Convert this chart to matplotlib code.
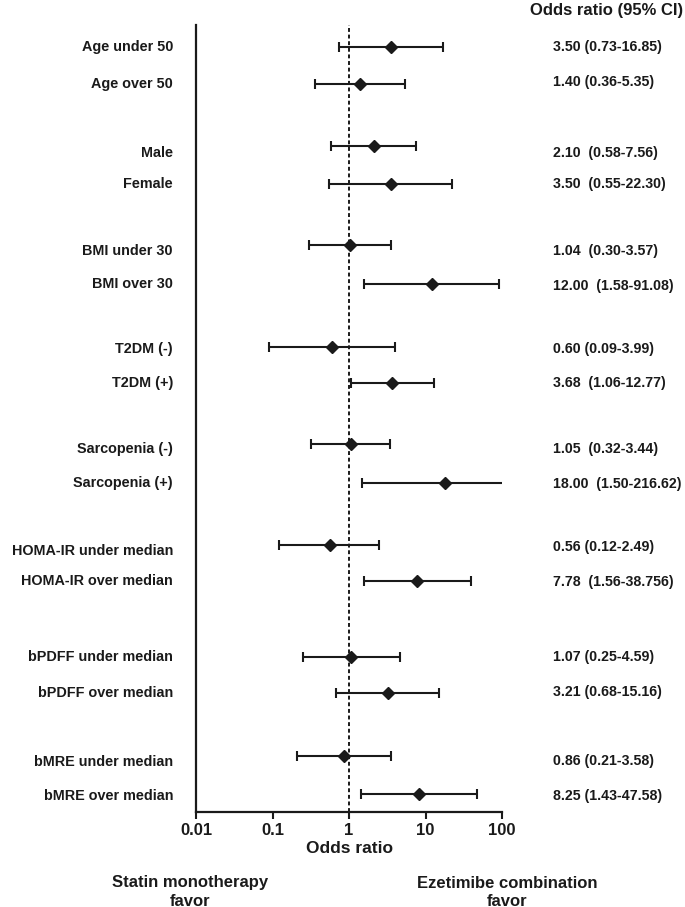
import matplotlib
matplotlib.use('Agg')
import matplotlib.pyplot as plt
import matplotlib.transforms as mtransforms
import numpy as np

plt.rcParams['font.family'] = ['Liberation Sans', 'DejaVu Sans']
plt.rcParams['font.weight'] = 'bold'

# subgroups, odds ratios and 95% CI
labels = ['Age under 50', 'Age over 50', 'Male', 'Female',
          'BMI under 30', 'BMI over 30', 'T2DM (-)', 'T2DM (+)',
          'Sarcopenia (-)', 'Sarcopenia (+)',
          'HOMA-IR under median', 'HOMA-IR over median',
          'bPDFF under median', 'bPDFF over median',
          'bMRE under median', 'bMRE over median']
odds = [3.50, 1.40, 2.10, 3.50, 1.04, 12.00, 0.60, 3.68,
        1.05, 18.00, 0.56, 7.78, 1.07, 3.21, 0.86, 8.25]
ci_low = [0.73, 0.36, 0.58, 0.55, 0.30, 1.58, 0.09, 1.06,
          0.32, 1.50, 0.12, 1.56, 0.25, 0.68, 0.21, 1.43]
ci_high = [16.85, 5.35, 7.56, 22.30, 3.57, 91.08, 3.99, 12.77,
           3.44, 216.62, 2.49, 38.756, 4.59, 15.16, 3.58, 47.58]
ci_text = ['3.50 (0.73-16.85)', '1.40 (0.36-5.35)', '2.10  (0.58-7.56)',
           '3.50  (0.55-22.30)', '1.04  (0.30-3.57)', '12.00  (1.58-91.08)',
           '0.60 (0.09-3.99)', '3.68  (1.06-12.77)', '1.05  (0.32-3.44)',
           '18.00  (1.50-216.62)', '0.56 (0.12-2.49)', '7.78  (1.56-38.756)',
           '1.07 (0.25-4.59)', '3.21 (0.68-15.16)', '0.86 (0.21-3.58)',
           '8.25 (1.43-47.58)']
xticks = [0.01, 0.1, 1, 10, 100]
xtick_labels = ['0.01', '0.1', '1', '10', '100']

# row layout (pixel rows from top of figure)
row_y = [47, 84, 146, 184, 245, 284, 347, 383,
         444, 483, 545, 581, 657, 693, 756, 794]
label_y = [47, 84, 153, 184, 251, 284, 349, 383,
           449, 483, 551, 581, 657, 693, 762, 796]
ci_y = [47, 82, 153, 184, 251, 286, 349, 383,
        449, 484, 547, 582, 657, 692, 761, 796]

W, H = 685, 907
fig = plt.figure(figsize=(W / 100, H / 100), dpi=100)
ax = fig.add_axes([196 / W, (H - 812) / H, 306 / W, (812 - 25) / H])

odds = np.array(odds)
err = [odds - np.array(ci_low), np.array(ci_high) - odds]
col = '#1a1a1a'
ax.errorbar(odds, row_y, xerr=err, fmt='D', color=col, ms=6.5,
            elinewidth=1.5, capsize=3.5, capthick=1.5)
ax.axvline(1, color=col, lw=1.4, ls=(0, (2, 1.4)))

ax.set_xscale('log')
ax.set_xlim(0.01, 100)
ax.set_ylim(812, 25)
ax.set_xticks(xticks)
ax.set_xticklabels(xtick_labels, fontsize=12, fontweight='bold', color=col)
ax.minorticks_off()
ax.tick_params(axis='x', direction='out', length=5, width=1.5, pad=3, colors=col)
ax.set_yticks([])
for s in ['top', 'right']:
    ax.spines[s].set_visible(False)
for s in ['left', 'bottom']:
    ax.spines[s].set_linewidth(1.6)
    ax.spines[s].set_color(col)
ax.set_xlabel('Odds ratio', fontsize=12.5, fontweight='bold', color=col, labelpad=2)

trans = mtransforms.blended_transform_factory(fig.transFigure, ax.transData)
for lab, ly in zip(labels, label_y):
    ax.text(173 / W, ly, lab, transform=trans, ha='right', va='center',
            fontsize=10.4, fontweight='bold', color=col)
for txt, cy in zip(ci_text, ci_y):
    ax.text(553 / W, cy, txt, transform=trans, ha='left', va='center',
            fontsize=10.2, fontweight='bold', color=col)

fig.text(683 / W, 1 - 10 / H, 'Odds ratio (95% CI)', ha='right', va='center',
         fontsize=12, fontweight='bold', color=col)
fig.text(190 / W, 1 - 892 / H, 'Statin monotherapy\nfavor', ha='center',
         va='center', fontsize=12, fontweight='bold', color=col, linespacing=1.25)
fig.text(507 / W, 1 - 892 / H, 'Ezetimibe combination\nfavor', ha='center',
         va='center', fontsize=12, fontweight='bold', color=col, linespacing=1.25)

fig.savefig('out.png', dpi=100)
